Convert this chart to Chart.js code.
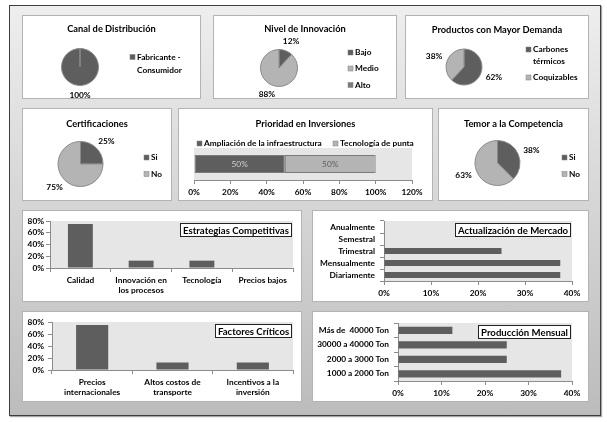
<!DOCTYPE html>
<html><head><meta charset="utf-8">
<script src="https://cdn.jsdelivr.net/npm/chart.js@4/dist/chart.umd.min.js"></script>
<style>
html,body{margin:0;padding:0;background:#fff;width:607px;height:422px;overflow:hidden;position:relative;}
#frame{position:absolute;left:9px;top:5px;width:592px;height:411px;box-sizing:border-box;border:1px solid #3e3e3e;background:linear-gradient(#eeeeee,#bcbcbc);box-shadow:1px 1px 1px rgba(0,0,0,.35);}
.panel{position:absolute;background:#fff;box-shadow:inset 0 0 0 1px #b3b3b3;}
.panel canvas{position:absolute;left:0;top:0;}
</style></head><body>
<div id="frame"></div>
<script>
// ---------- data ----------
const canalCategories = ['Fabricante - Consumidor'];
const canalValues = [100];
const innovacionCategories = ['Bajo', 'Medio', 'Alto'];
const innovacionValues = [12, 88, 0];
const productosCategories = ['Carbones térmicos', 'Coquizables'];
const productosValues = [62, 38];
const certificacionesCategories = ['Si', 'No'];
const certificacionesValues = [25, 75];
const inversionesSeries = ['Ampliación de la infraestructura', 'Tecnología de punta'];
const inversionesValues = [50, 50];
const inversionesTicks = [0, 20, 40, 60, 80, 100, 120];
const temorCategories = ['Si', 'No'];
const temorValues = [37.5, 62.5];
const estrategiasCategories = ['Calidad', 'Innovación en los procesos', 'Tecnología', 'Precios bajos'];
const estrategiasValues = [75, 12.5, 12.5, 0];
const estrategiasTicks = [0, 20, 40, 60, 80];
const actualizacionCategories = ['Diariamente', 'Mensualmente', 'Trimestral', 'Semestral', 'Anualmente'];
const actualizacionValues = [37.5, 37.5, 25, 0, 0];
const actualizacionTicks = [0, 10, 20, 30, 40];
const factoresCategories = ['Precios internacionales', 'Altos costos de transporte', 'Incentivos a la inversión'];
const factoresValues = [75, 12.5, 12.5];
const factoresTicks = [0, 20, 40, 60, 80];
const produccionCategories = ['1000 a 2000 Ton', '2000 a 3000 Ton', '30000 a 40000 Ton', 'Más de  40000 Ton'];
const produccionValues = [37.5, 25, 25, 12.5];
const produccionTicks = [0, 10, 20, 30, 40];

// ---------- style ----------
const FONT = 'Lato, "Liberation Sans", sans-serif';
const LBL = 8.3, TTL = 9.3, BOX = 9.6;
const DARK = '#5e5e5e', LIGHT = '#b4b4b4', MID = '#7c7c7c', AXIS = '#8c8c8c', PLOT = '#e6e6e6';
Chart.defaults.font.family = FONT;
Chart.defaults.font.size = LBL;
Chart.defaults.font.weight = 'bold';
Chart.defaults.color = '#000';

const mctx = document.createElement('canvas').getContext('2d');
function wrapLines(text, font, maxW) {
  mctx.font = font;
  const words = text.split(' ');
  const lines = []; let cur = '';
  for (const w of words) {
    const t = cur ? cur + ' ' + w : w;
    if (cur && mctx.measureText(t).width > maxW) { lines.push(cur); cur = w; } else cur = t;
  }
  if (cur) lines.push(cur);
  return lines;
}

function makeCanvas(p) {
  const d = document.createElement('div');
  d.className = 'panel';
  d.style.left = p.x + 'px'; d.style.top = p.y + 'px';
  d.style.width = p.w + 'px'; d.style.height = p.h + 'px';
  const cv = document.createElement('canvas');
  cv.width = p.w; cv.height = p.h;
  cv.style.width = p.w + 'px'; cv.style.height = p.h + 'px';
  d.appendChild(cv);
  document.body.appendChild(d);
  return cv;
}

function deco(o) {
  return {
    id: 'deco',
    beforeDraw(chart) {
      if (o.plotBg) {
        const a = chart.chartArea, c = chart.ctx;
        c.save(); c.fillStyle = o.plotBg;
        c.fillRect(a.left, a.top, a.right - a.left, a.bottom - a.top);
        c.restore();
      }
    },
    afterDraw(chart) {
      const c = chart.ctx;
      c.save();
      if (o.title) {
        c.font = `bold ${TTL}px ${FONT}`;
        c.fillStyle = '#000'; c.textAlign = 'center'; c.textBaseline = 'middle';
        c.fillText(o.title.text, chart.width / 2, o.title.y);
      }
      if (o.legend) {
        const L = o.legend;
        let labels, colors;
        if (L.mode === 'datasets') {
          labels = chart.data.datasets.map(d => d.label);
          colors = chart.data.datasets.map(d => d.backgroundColor);
        } else {
          labels = chart.data.labels;
          colors = chart.data.datasets[0].backgroundColor;
        }
        const f = `bold ${LBL}px ${FONT}`;
        labels.forEach((lab, i) => {
          const [x, y] = L.pos[i];
          c.fillStyle = colors[i];
          c.fillRect(x, y - 2.5, 5, 5);
          c.strokeStyle = '#808080'; c.lineWidth = 0.5;
          c.strokeRect(x, y - 2.5, 5, 5);
          const lines = L.maxWidth ? wrapLines(lab, f, L.maxWidth) : [lab];
          c.font = f; c.fillStyle = '#000'; c.textAlign = 'left'; c.textBaseline = 'middle';
          lines.forEach((ln, j) => c.fillText(ln, x + 7, y + j * (L.lh || 12)));
        });
      }
      if (o.pieLabels) {
        const meta = chart.getDatasetMeta(0);
        const vals = chart.data.datasets[0].data;
        const total = vals.reduce((s, v) => s + v, 0);
        c.font = `bold ${LBL}px ${FONT}`;
        c.fillStyle = '#000'; c.textAlign = 'center'; c.textBaseline = 'middle';
        meta.data.forEach((el, i) => {
          if (!vals[i]) return;
          const txt = Math.round(vals[i] / total * 100) + '%';
          const mid = (el.startAngle + el.endAngle) / 2;
          const dx = Math.cos(mid), dy = Math.sin(mid);
          const tw = c.measureText(txt).width, th = 10;
          const x = el.x + dx * (el.outerRadius + 5) + dx * (tw / 2 + 1);
          const y = el.y + dy * (el.outerRadius + 4) + dy * (th / 2 + 1);
          c.fillText(txt, x, y);
        });
      }
      if (o.barLabels) {
        c.font = `${LBL}px ${FONT}`;
        c.textAlign = 'center'; c.textBaseline = 'middle';
        chart.data.datasets.forEach((ds, i) => {
          const el = chart.getDatasetMeta(i).data[0];
          c.fillStyle = o.barLabels[i];
          c.fillText(ds.data[0] + '%', (el.x + el.base) / 2, el.y + 0.5);
        });
      }
      if (o.boxTitle) {
        c.font = `bold ${BOX}px ${FONT}`;
        const tw = c.measureText(o.boxTitle).width;
        const a = chart.chartArea;
        const w = Math.round(tw + 6), h = 14;
        const x = Math.round(a.right - 1 - w), y = Math.round(a.top + 2);
        c.fillStyle = '#fff'; c.fillRect(x, y, w, h);
        c.strokeStyle = '#222'; c.lineWidth = 1;
        c.strokeRect(x + 0.5, y + 0.5, w - 1, h - 1);
        c.fillStyle = '#000'; c.textAlign = 'center'; c.textBaseline = 'middle';
        c.fillText(o.boxTitle, x + w / 2, y + h / 2 + 0.5);
      }
      c.restore();
    }
  };
}

const base = { responsive: false, animation: false, events: [], devicePixelRatio: 1 };

function pie(p, cats, vals, colors, g, deco_o) {
  const cv = makeCanvas(p);
  const R = g.r + 0.5;
  return new Chart(cv, {
    type: 'pie',
    data: { labels: cats, datasets: [{ data: vals, backgroundColor: colors, borderColor: '#8a8a8a', borderWidth: 1 }] },
    options: Object.assign({}, base, {
      layout: { padding: { left: g.cx - R, top: g.cy - R, right: p.w - g.cx - R, bottom: p.h - g.cy - R } },
      plugins: { legend: { display: false }, tooltip: { enabled: false } }
    }),
    plugins: [deco(Object.assign({ pieLabels: true }, deco_o))]
  });
}

function ticksFrom(arr) {
  return function (s) { s.ticks = arr.map(v => ({ value: v })); };
}

function vbar(p, cats, vals, ticks, g, boxTitle) {
  const cv = makeCanvas(p);
  const lf = `bold ${LBL}px ${FONT}`;
  return new Chart(cv, {
    type: 'bar',
    data: { labels: cats, datasets: [{ data: vals, backgroundColor: DARK, barPercentage: g.bp, categoryPercentage: 1 }] },
    options: Object.assign({}, base, {
      layout: { padding: { left: 0, top: g.top, right: p.w - g.right, bottom: 0 } },
      plugins: { legend: { display: false }, tooltip: { enabled: false } },
      scales: {
        x: {
          grid: { drawOnChartArea: false, drawTicks: true, tickLength: 4, color: AXIS, offset: true },
          border: { color: AXIS },
          ticks: {
            padding: g.xpad, maxRotation: 0, minRotation: 0, autoSkip: false,
            callback(v) { const l = wrapLines(this.getLabelForValue(v), lf, g.wrap); return l.length > 1 ? l : l[0]; }
          },
          afterFit(s) { s.height = p.h - g.bottom; }
        },
        y: {
          min: ticks[0], max: ticks[ticks.length - 1],
          afterBuildTicks: ticksFrom(ticks),
          ticks: { padding: g.ypad, autoSkip: false, callback: v => v + '%' },
          grid: { drawOnChartArea: false, drawTicks: true, tickLength: 4, color: AXIS },
          border: { color: AXIS },
          afterFit(s) { s.width = g.left; }
        }
      }
    }),
    plugins: [deco({ plotBg: PLOT, boxTitle })]
  });
}

function hbar(p, cats, vals, ticks, g, boxTitle) {
  const cv = makeCanvas(p);
  return new Chart(cv, {
    type: 'bar',
    data: { labels: cats, datasets: [{ data: vals, backgroundColor: DARK, barPercentage: g.bp, categoryPercentage: 1 }] },
    options: Object.assign({}, base, {
      indexAxis: 'y',
      layout: { padding: { left: 0, top: g.top, right: p.w - g.right, bottom: 0 } },
      plugins: { legend: { display: false }, tooltip: { enabled: false } },
      scales: {
        x: {
          min: ticks[0], max: ticks[ticks.length - 1],
          afterBuildTicks: ticksFrom(ticks),
          ticks: { padding: g.xpad, autoSkip: false, maxRotation: 0, callback: v => v + '%' },
          grid: { drawOnChartArea: false, drawTicks: true, tickLength: 4, color: AXIS },
          border: { color: AXIS },
          afterFit(s) { s.height = p.h - g.bottom; }
        },
        y: {
          reverse: true,
          grid: { drawOnChartArea: false, drawTicks: true, tickLength: 4, color: AXIS, offset: true },
          border: { color: AXIS },
          ticks: { padding: g.ypad, autoSkip: false },
          afterFit(s) { s.width = g.left; }
        }
      }
    }),
    plugins: [deco({ plotBg: PLOT, boxTitle })]
  });
}

// ---------- panels ----------
const P = {
  canal: { x: 22, y: 15, w: 179, h: 84 },
  innov: { x: 213, y: 15, w: 184, h: 84 },
  prod:  { x: 405, y: 15, w: 184, h: 84 },
  cert:  { x: 22, y: 108, w: 150, h: 93 },
  inv:   { x: 178, y: 108, w: 255, h: 93 },
  temor: { x: 438, y: 108, w: 151, h: 93 },
  estr:  { x: 22, y: 210, w: 280, h: 92 },
  actu:  { x: 312, y: 210, w: 277, h: 92 },
  fact:  { x: 22, y: 311, w: 280, h: 91 },
  prodm: { x: 312, y: 311, w: 277, h: 91 }
};

pie(P.canal, canalCategories, canalValues, [DARK], { cx: 58, cy: 52, r: 18.5 },
  { title: { text: 'Canal de Distribución', y: 14 }, legend: { pos: [[108, 42]], maxWidth: 50, lh: 13 } });

pie(P.innov, innovacionCategories, innovacionValues, [DARK, LIGHT, MID], { cx: 66, cy: 53, r: 18.5 },
  { title: { text: 'Nivel de Innovación', y: 14 }, legend: { pos: [[135, 37.5], [135, 53.5], [135, 70]] } });

pie(P.prod, productosCategories, productosValues, [DARK, LIGHT], { cx: 59, cy: 52, r: 18 },
  { title: { text: 'Productos con Mayor Demanda', y: 15 }, legend: { pos: [[121, 34.5], [121, 62.5]], maxWidth: 50, lh: 12 } });

pie(P.cert, certificacionesCategories, certificacionesValues, [DARK, LIGHT], { cx: 58.5, cy: 56, r: 22.5 },
  { title: { text: 'Certificaciones', y: 15.5 }, legend: { pos: [[122, 49.5], [122, 66]] } });

pie(P.temor, temorCategories, temorValues, [DARK, LIGHT], { cx: 59.5, cy: 55, r: 22.5 },
  { title: { text: 'Temor a la Competencia', y: 15.5 }, legend: { pos: [[124, 49.5], [124, 66]] } });

(function () {
  const p = P.inv;
  const cv = makeCanvas(p);
  const cols = [DARK, LIGHT];
  new Chart(cv, {
    type: 'bar',
    data: {
      labels: [''],
      datasets: inversionesSeries.map((s, i) => ({
        label: s, data: [inversionesValues[i]], backgroundColor: cols[i],
        borderColor: '#7a7a7a', borderWidth: 1, borderSkipped: false,
        barPercentage: 0.56, categoryPercentage: 1
      }))
    },
    options: Object.assign({}, base, {
      indexAxis: 'y',
      layout: { padding: { left: 16, top: 40, right: p.w - 234, bottom: 0 } },
      plugins: { legend: { display: false }, tooltip: { enabled: false } },
      scales: {
        x: {
          stacked: true, min: inversionesTicks[0], max: inversionesTicks[inversionesTicks.length - 1],
          afterBuildTicks: ticksFrom(inversionesTicks),
          ticks: { padding: 3, autoSkip: false, maxRotation: 0, callback: v => v + '%' },
          grid: { drawOnChartArea: false, drawTicks: true, tickLength: 4, color: AXIS },
          border: { color: AXIS },
          afterFit(s) { s.height = p.h - 72; }
        },
        y: { stacked: true, display: false }
      }
    }),
    plugins: [deco({
      title: { text: 'Prioridad en Inversiones', y: 16 },
      legend: { mode: 'datasets', pos: [[19, 35.5], [155, 35.5]] },
      plotBg: PLOT, barLabels: ['#cfcfcf', '#5e5e5e']
    })]
  });
})();

vbar(P.estr, estrategiasCategories, estrategiasValues, estrategiasTicks,
  { top: 11, bottom: 58, left: 28, right: 271, bp: 0.41, xpad: 3, ypad: 2, wrap: 58 }, 'Estrategias Competitivas');

hbar(P.actu, actualizacionCategories, actualizacionValues, actualizacionTicks,
  { top: 11, bottom: 71, left: 72, right: 260, bp: 0.5, xpad: 3, ypad: 5 }, 'Actualización de Mercado');

vbar(P.fact, factoresCategories, factoresValues, factoresTicks,
  { top: 11, bottom: 59, left: 30, right: 271, bp: 0.4, xpad: 3, ypad: 4, wrap: 70 }, 'Factores Críticos');

hbar(P.prodm, produccionCategories, produccionValues, produccionTicks,
  { top: 12, bottom: 70, left: 86, right: 260, bp: 0.5, xpad: 3, ypad: 5 }, 'Producción Mensual');
</script>
</body></html>
